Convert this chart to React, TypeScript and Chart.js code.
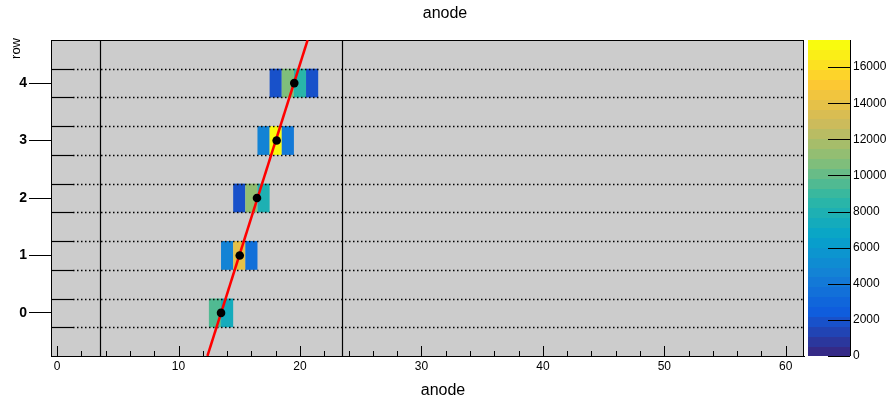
import React, { useEffect, useRef } from 'react';
import { Chart, registerables } from 'chart.js';

Chart.register(...registerables);

// ---------- data ----------
const chartTitle = 'anode';
const xAxisTitle = 'anode';
const yAxisTitle = 'row';

const rowTicks = [0, 1, 2, 3, 4];
const xTickValues = [0, 2, 4, 6, 8, 10, 12, 14, 16, 18, 20, 22, 24, 26, 28, 30, 32, 34, 36, 38, 40, 42, 44, 46, 48, 50, 52, 54, 56, 58, 60];
const zTickValues = [0, 2000, 4000, 6000, 8000, 10000, 12000, 14000, 16000];
const zMax = 17500;
const nContours = 32;

// heat-map cells: row, anode bin centre, content
const cellRow = [4, 4, 4, 4, 3, 3, 3, 2, 2, 2, 1, 1, 1, 0, 0];
const cellBin = [18, 19, 20, 21, 17, 18, 19, 15, 16, 17, 14, 15, 16, 13, 14];
const cellValue = [1900, 10500, 8400, 1900, 4900, 17400, 4200, 1900, 11400, 7900, 4400, 14000, 3500, 9600, 7300];

// mean positions per row
const pointX = [13.5, 15.04, 16.46, 18.08, 19.53];
const pointRow = [0, 1, 2, 3, 4];

// straight-line fit endpoints
const fitX = [12.38, 20.63];
const fitRow = [-0.75, 4.75];

// vertical marker lines and row separators
const boundaryX = [3.5, 23.5];
const rowEdges = [-0.25, 0.25, 0.75, 1.25, 1.75, 2.25, 2.75, 3.25, 3.75, 4.25];

// kBird palette definition
const birdStops = [0.0, 0.125, 0.25, 0.375, 0.5, 0.625, 0.75, 0.875, 1.0];
const birdR = [0.2082, 0.0592, 0.078, 0.0232, 0.1802, 0.5301, 0.8186, 0.9956, 0.9764];
const birdG = [0.1664, 0.3599, 0.5041, 0.6419, 0.7178, 0.7492, 0.7328, 0.7862, 0.9832];
const birdB = [0.5293, 0.8684, 0.8385, 0.7914, 0.6425, 0.4662, 0.3499, 0.1968, 0.0539];

function bird(t: number): string {
  const tt = Math.max(0, Math.min(1, t));
  let k = 0;
  while (k < birdStops.length - 2 && tt > birdStops[k + 1]) k++;
  const f = (tt - birdStops[k]) / (birdStops[k + 1] - birdStops[k]);
  const c = (arr: number[]) => Math.round(255 * (arr[k] + (arr[k + 1] - arr[k]) * f));
  return `rgb(${c(birdR)},${c(birdG)},${c(birdB)})`;
}

function levelColor(v: number): string {
  const i = Math.min(nContours - 1, Math.max(0, Math.floor((v / zMax) * nContours)));
  return bird(i / (nContours - 1));
}

const FONT = "'Liberation Sans', Arial, sans-serif";

const rootPlugin = {
  id: 'rootStyle',
  beforeDraw(chart: any) {
    const { ctx, chartArea: a } = chart;
    ctx.save();
    ctx.fillStyle = '#ffffff';
    ctx.fillRect(0, 0, chart.width, chart.height);
    ctx.fillStyle = '#cccccc';
    ctx.fillRect(a.left, a.top, a.right - a.left, a.bottom - a.top);
    ctx.restore();
  },
  beforeDatasetsDraw(chart: any) {
    const { ctx, chartArea: a } = chart;
    const xs = chart.scales.x;
    const ys = chart.scales.y;
    ctx.save();
    // cells
    for (let i = 0; i < cellValue.length; i++) {
      const x0 = xs.getPixelForValue(cellBin[i] - 0.5);
      const x1 = xs.getPixelForValue(cellBin[i] + 0.5);
      const y0 = ys.getPixelForValue(cellRow[i] + 0.25);
      const y1 = ys.getPixelForValue(cellRow[i] - 0.25);
      ctx.fillStyle = levelColor(cellValue[i]);
      ctx.fillRect(x0, y0, x1 - x0, y1 - y0);
    }
    // row separators
    ctx.strokeStyle = '#000000';
    for (const e of rowEdges) {
      const y = Math.round(ys.getPixelForValue(e)) + 0.5;
      ctx.setLineDash([]);
      ctx.lineWidth = 1.2;
      ctx.beginPath();
      ctx.moveTo(a.left, y);
      ctx.lineTo(a.left + 22, y);
      ctx.stroke();
      ctx.setLineDash([1.5, 2.5]);
      ctx.lineWidth = 1.5;
      ctx.beginPath();
      ctx.moveTo(a.left + 22, y);
      ctx.lineTo(a.right, y);
      ctx.stroke();
    }
    ctx.setLineDash([]);
    // vertical boundaries
    ctx.lineWidth = 1.2;
    for (const bx of boundaryX) {
      const x = Math.round(xs.getPixelForValue(bx)) + 0.5;
      ctx.beginPath();
      ctx.moveTo(x, a.top);
      ctx.lineTo(x, a.bottom);
      ctx.stroke();
    }
    // x ticks drawn inside the frame
    ctx.lineWidth = 1;
    for (const v of xTickValues) {
      const x = Math.round(xs.getPixelForValue(v)) + 0.5;
      const len = v % 10 === 0 ? 10 : 5;
      ctx.beginPath();
      ctx.moveTo(x, a.bottom);
      ctx.lineTo(x, a.bottom - len);
      ctx.stroke();
    }
    // frame
    ctx.lineWidth = 1;
    ctx.strokeRect(a.left + 0.5, a.top + 0.5, a.right - a.left - 1, a.bottom - a.top);
    ctx.restore();
  },
  afterDraw(chart: any) {
    const { ctx, chartArea: a } = chart;
    const zs = chart.scales.z;
    ctx.save();
    // colour bar
    const bx0 = a.right + 4;
    const bx1 = a.right + 46;
    for (let i = 0; i < nContours; i++) {
      const yb = zs.getPixelForValue((i * zMax) / nContours);
      const yt = zs.getPixelForValue(((i + 1) * zMax) / nContours);
      ctx.fillStyle = bird(i / (nContours - 1));
      ctx.fillRect(bx0, Math.floor(yt), bx1 - bx0, Math.ceil(yb) - Math.floor(yt));
    }
    ctx.strokeStyle = '#000000';
    ctx.lineWidth = 1;
    ctx.beginPath();
    ctx.moveTo(bx1 + 0.5, a.top);
    ctx.lineTo(bx1 + 0.5, a.bottom);
    ctx.stroke();
    for (const v of zTickValues) {
      const y = Math.round(zs.getPixelForValue(v)) + 0.5;
      ctx.beginPath();
      ctx.moveTo(bx1 - 22, y);
      ctx.lineTo(bx1, y);
      ctx.stroke();
    }
    // axis titles
    ctx.fillStyle = '#000000';
    ctx.font = `16px ${FONT}`;
    ctx.textAlign = 'center';
    ctx.textBaseline = 'alphabetic';
    ctx.fillText(xAxisTitle, 443, 395);
    ctx.translate(20, 38);
    ctx.rotate(-Math.PI / 2);
    ctx.font = `13px ${FONT}`;
    ctx.textAlign = 'right';
    ctx.fillText(yAxisTitle, 0, 0);
    ctx.restore();
  },
};

export default function App() {
  const ref = useRef<HTMLCanvasElement | null>(null);
  useEffect(() => {
    if (!ref.current) return;
    Chart.defaults.font.family = FONT;
    const chart = new Chart(ref.current, {
      type: 'scatter',
      data: {
        datasets: [
          {
            label: 'mean',
            data: pointX.map((x, i) => ({ x, y: pointRow[i] })),
            pointRadius: 4.3,
            pointBackgroundColor: '#000000',
            pointBorderWidth: 0,
            showLine: false,
          },
          {
            label: 'fit',
            data: fitX.map((x, i) => ({ x, y: fitRow[i] })),
            showLine: true,
            borderColor: '#ff0000',
            borderWidth: 2.5,
            pointRadius: 0,
          },
        ],
      },
      options: {
        animation: false,
        responsive: false,
        devicePixelRatio: 1,
        layout: { padding: 0 },
        plugins: {
          legend: { display: false },
          tooltip: { enabled: false },
          title: {
            display: true,
            text: chartTitle,
            color: '#000000',
            font: { family: FONT, size: 16, weight: 'normal' },
            padding: { top: 4, bottom: 16.8 },
          },
        },
        scales: {
          x: {
            type: 'linear',
            min: -0.5,
            max: 61.5,
            afterBuildTicks: (s: any) => {
              s.ticks = xTickValues.map((v) => ({ value: v }));
            },
            afterFit: (s: any) => {
              s.height = 45;
            },
            ticks: {
              autoSkip: false,
              maxRotation: 0,
              padding: 3,
              color: '#000000',
              font: { family: FONT, size: 12 },
              callback: (v: any) => (Number(v) % 10 === 0 ? String(v) : ''),
            },
            grid: { display: false, drawTicks: false },
            border: { display: true, color: '#000000' },
          },
          y: {
            type: 'linear',
            min: -0.75,
            max: 4.75,
            afterBuildTicks: (s: any) => {
              s.ticks = rowTicks.map((v) => ({ value: v }));
            },
            afterFit: (s: any) => {
              s.width = 51;
            },
            ticks: {
              padding: 2,
              color: '#000000',
              font: { family: FONT, size: 14, weight: 'bold' },
            },
            grid: {
              drawOnChartArea: false,
              drawTicks: true,
              tickLength: 22,
              color: '#000000',
              lineWidth: 1,
            },
            border: { display: true, color: '#000000' },
          },
          z: {
            type: 'linear',
            position: 'right',
            min: 0,
            max: zMax,
            afterBuildTicks: (s: any) => {
              s.ticks = zTickValues.map((v) => ({ value: v }));
            },
            afterFit: (s: any) => {
              s.width = 86;
            },
            ticks: {
              padding: 2,
              color: '#000000',
              font: { family: FONT, size: 12 },
              callback: (v: any) => String(v),
            },
            grid: { display: false, drawTicks: true, tickLength: 47 },
            border: { display: false },
          },
        },
      },
      plugins: [rootPlugin],
    } as any);
    return () => chart.destroy();
  }, []);
  return (
    <div style={{ position: 'absolute', left: 0, top: 0, width: 890, height: 401 }}>
      <canvas ref={ref} width={890} height={401} style={{ display: 'block' }} />
    </div>
  );
}
